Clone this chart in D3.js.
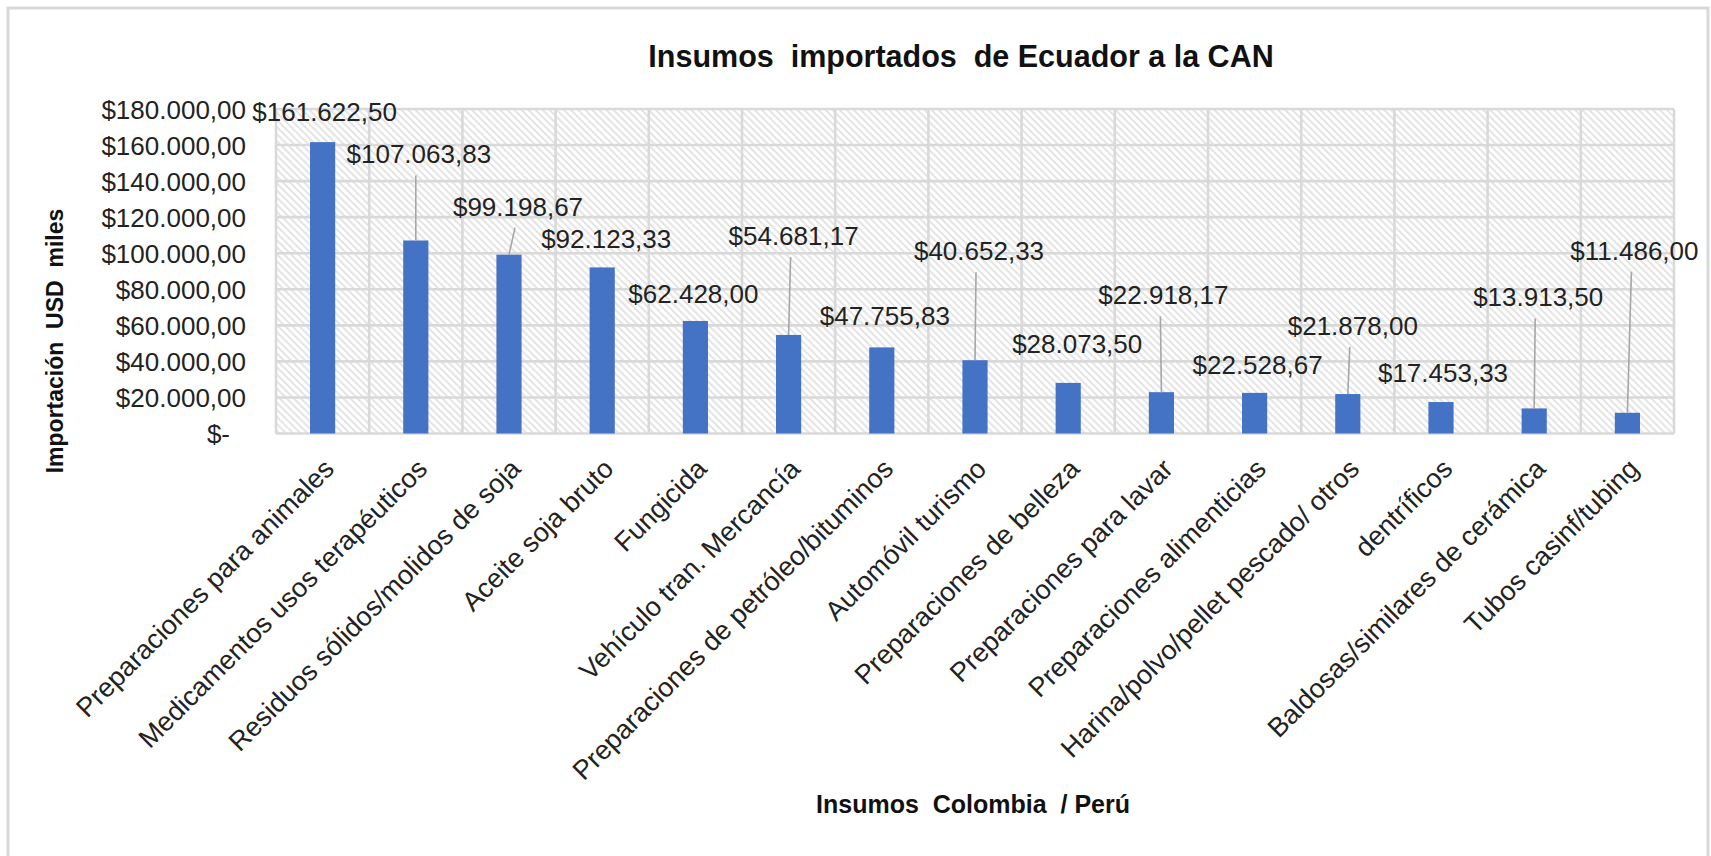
<!DOCTYPE html>
<html>
<head>
<meta charset="utf-8">
<script src="https://cdn.jsdelivr.net/npm/d3@7"></script>
<style>
  body { margin: 0; background: #fff; }
  text { font-family: "Liberation Sans", Arial, sans-serif; white-space: pre; }
</style>
</head>
<body>
<svg id="chart"></svg>
<script>
var categories = [
  "Preparaciones para animales",
  "Medicamentos usos terapéuticos",
  "Residuos sólidos/molidos de soja",
  "Aceite soja bruto",
  "Fungicida",
  "Vehículo tran. Mercancía",
  "Preparaciones de petróleo/bituminos",
  "Automóvil turismo",
  "Preparaciones de belleza",
  "Preparaciones para lavar",
  "Preparaciones alimenticias",
  "Harina/polvo/pellet pescado/ otros",
  "dentríficos",
  "Baldosas/similares de cerámica",
  "Tubos casinf/tubing"
];
var values = [161622.50, 107063.83, 99198.67, 92123.33, 62428.00, 54681.17, 47755.83,
  40652.33, 28073.50, 22918.17, 22528.67, 21878.00, 17453.33, 13913.50, 11486.00];
var yTicks = [0, 20000, 40000, 60000, 80000, 100000, 120000, 140000, 160000, 180000];

var chartTitle = "Insumos  importados  de Ecuador a la CAN";
var yTitle = "Importación  USD  miles";
var xTitle = "Insumos  Colombia  / Perú";

// where each data label was dragged to (px from the top of its bar)
var labelDx   = [2, 3, 9, 4, -2, 5, 3, 4, 9, 2, 3, 5, 2, 4, 7];
var labelLift = [21, 77, 39, 19, 18, 90, 22, 100, 30, 88, 19, 59, 20, 102, 153];

var width = 1711, height = 856;
var margin = {top: 109, right: 37, bottom: 422.5, left: 276};
var plotRight = width - margin.right,
    plotBottom = height - margin.bottom;

var svg = d3.select("#chart")
    .attr("width", width)
    .attr("height", height);

var defs = svg.append("defs");
defs.append("pattern")
    .attr("id", "hatch")
    .attr("patternUnits", "userSpaceOnUse")
    .attr("width", 5)
    .attr("height", 5)
    .attr("patternTransform", "rotate(-45)")
  .append("line")
    .attr("x1", 1).attr("y1", 0)
    .attr("x2", 1).attr("y2", 5)
    .attr("stroke", "#cdcdcd")
    .attr("stroke-width", 1.1);

// chart frame
svg.append("rect")
    .attr("x", 8).attr("y", 8)
    .attr("width", 1700).attr("height", 900)
    .attr("fill", "#fff")
    .attr("stroke", "#d9d9d9")
    .attr("stroke-width", 3);

var xScale = d3.scaleBand()
    .domain(categories)
    .range([margin.left, plotRight])
    .paddingInner(0.73)
    .paddingOuter(0.365);
var yScale = d3.scaleLinear()
    .domain([0, 180000])
    .range([plotBottom, margin.top]);

var step = xScale.step(), bw = xScale.bandwidth();
var cx = function(c) { return xScale(c) + bw / 2; };

// plot area with hatch
svg.append("rect")
    .attr("x", margin.left).attr("y", margin.top)
    .attr("width", plotRight - margin.left)
    .attr("height", plotBottom - margin.top)
    .attr("fill", "url(#hatch)");

var grid = svg.append("g").attr("stroke", "#d9d9d9").attr("stroke-width", 2.6);
grid.selectAll(".hgrid")
    .data(yTicks)
  .enter().append("line")
    .attr("x1", margin.left).attr("x2", plotRight)
    .attr("y1", d => yScale(d)).attr("y2", d => yScale(d));
var bounds = categories.map(c => cx(c) - step / 2).concat([cx(categories[categories.length - 1]) + step / 2]);
grid.selectAll(".vgrid")
    .data(bounds)
  .enter().append("line")
    .attr("x1", d => d).attr("x2", d => d)
    .attr("y1", margin.top).attr("y2", plotBottom);

// y axis
var locale = d3.formatLocale({decimal: ",", thousands: ".", grouping: [3], currency: ["$", ""]});
var money = locale.format("$,.2f");

var yAxis = svg.append("g")
    .attr("transform", "translate(" + margin.left + ",0)")
    .call(d3.axisLeft(yScale)
      .tickValues(yTicks)
      .tickSize(0)
      .tickPadding(30)
      .tickFormat(d => d === 0 ? "$-" : money(d)));
yAxis.select(".domain").remove();
yAxis.selectAll("text")
    .attr("font-family", null)
    .attr("font-size", 26)
    .attr("fill", "#222")
    .attr("dy", "0.35em")
    .attr("dx", d => d === 0 ? -16 : 0);

// x axis
var xAxis = svg.append("g")
    .attr("transform", "translate(0," + plotBottom + ")")
    .call(d3.axisBottom(xScale).tickSize(0));
xAxis.select(".domain").remove();
xAxis.selectAll("text")
    .attr("font-family", null)
    .attr("font-size", 27)
    .attr("fill", "#222")
    .attr("x", 0).attr("y", 0).attr("dy", 0)
    .attr("text-anchor", "end")
    .attr("transform", "translate(13,37) rotate(-45)");

// bars
svg.selectAll(".bar")
    .data(values)
  .enter().append("rect")
    .attr("class", "bar")
    .attr("x", (d, i) => xScale(categories[i]))
    .attr("width", bw)
    .attr("y", d => yScale(d))
    .attr("height", d => plotBottom - yScale(d))
    .attr("fill", "#4472c4");

// leader lines for labels that sit far from their bar
svg.selectAll(".leader")
    .data(values.filter((d, i) => labelLift[i] > 35).map(d => values.indexOf(d)))
  .enter().append("line")
    .attr("class", "leader")
    .attr("x1", i => cx(categories[i]) + labelDx[i] - 3)
    .attr("y1", i => yScale(values[i]) - labelLift[i] + 12)
    .attr("x2", i => cx(categories[i]))
    .attr("y2", i => yScale(values[i]))
    .attr("stroke", "#a6a6a6")
    .attr("stroke-width", 1.6);

svg.selectAll(".label")
    .data(values)
  .enter().append("text")
    .attr("class", "label")
    .attr("x", (d, i) => cx(categories[i]) + labelDx[i])
    .attr("y", (d, i) => yScale(d) - labelLift[i])
    .attr("text-anchor", "middle")
    .attr("font-size", 26)
    .attr("fill", "#222")
    .text(d => money(d));

// titles
svg.append("text")
    .attr("x", 961).attr("y", 67)
    .attr("text-anchor", "middle")
    .attr("font-size", 30.5)
    .attr("font-weight", "bold")
    .attr("fill", "#111")
    .text(chartTitle);

svg.append("text")
    .attr("transform", "translate(63,341) rotate(-90)")
    .attr("text-anchor", "middle")
    .attr("font-size", 23)
    .attr("font-weight", "bold")
    .attr("fill", "#111")
    .text(yTitle);

svg.append("text")
    .attr("x", 973).attr("y", 813)
    .attr("text-anchor", "middle")
    .attr("font-size", 25)
    .attr("font-weight", "bold")
    .attr("fill", "#111")
    .text(xTitle);
</script>
</body>
</html>
